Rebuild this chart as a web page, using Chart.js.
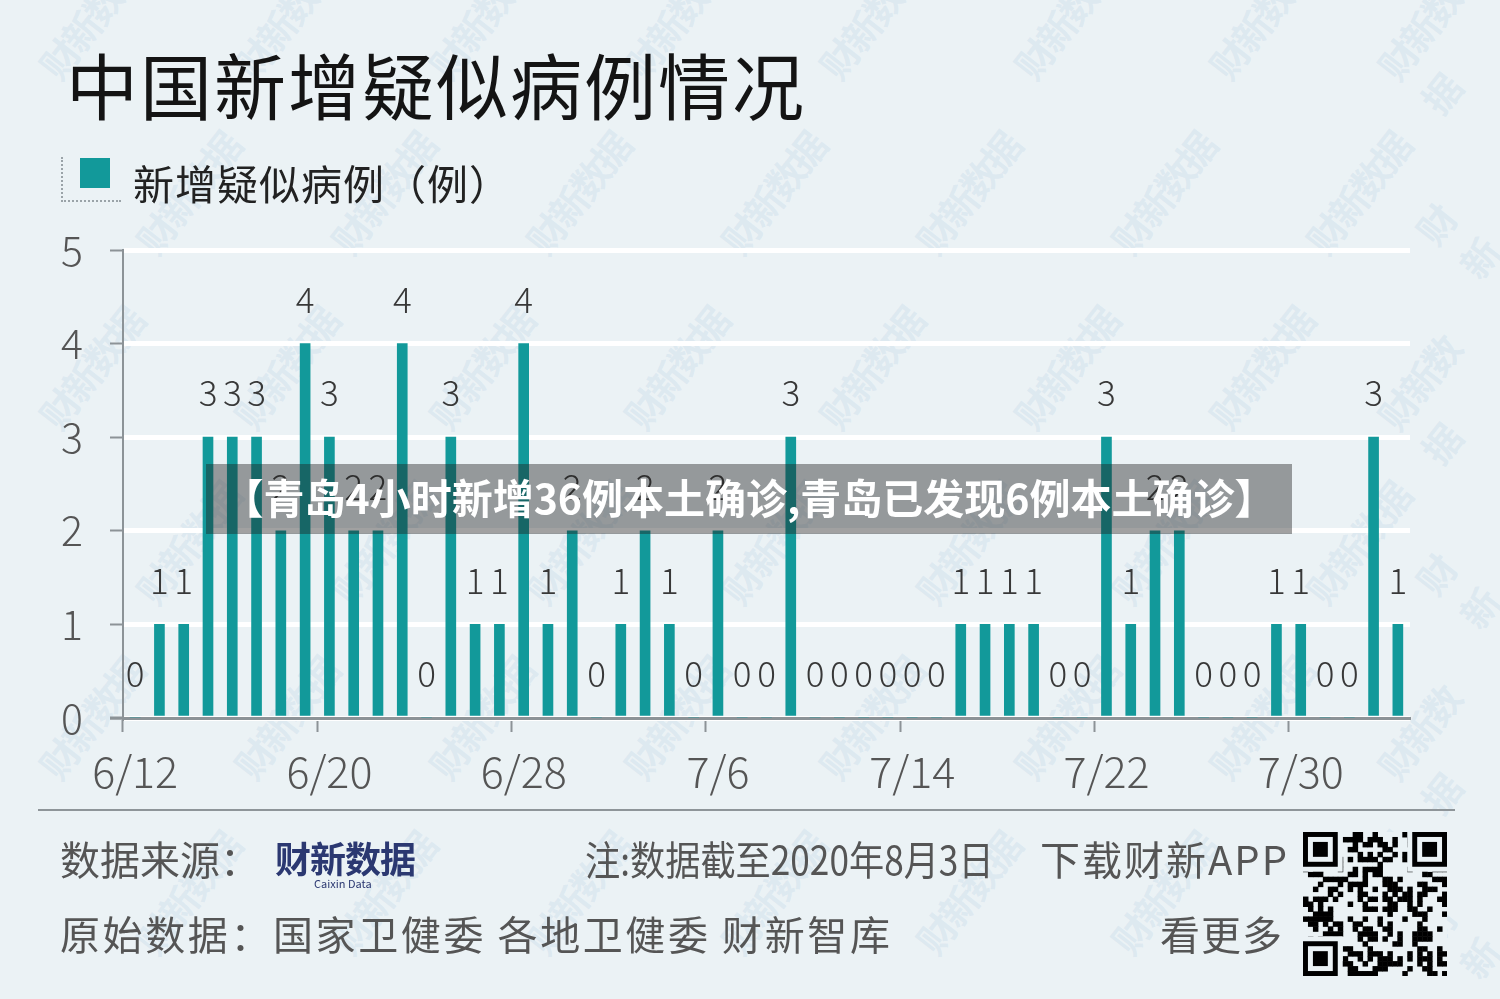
<!DOCTYPE html>
<html>
<head>
<meta charset="utf-8">
<script src="https://cdn.jsdelivr.net/npm/chart.js@4.4.0/dist/chart.umd.min.js"></script>
<style>
  html, body { margin: 0; padding: 0; }
  body { width: 1500px; height: 999px; background: #ebf2f5; position: relative; overflow: hidden;
         font-family: 'Noto Sans CJK SC', 'Noto Sans', sans-serif; }
  .abs { position: absolute; white-space: nowrap; }
  #wm { position: absolute; left: 0; top: 0; width: 1500px; height: 999px; pointer-events: none; }
  #wm span { position: absolute; font-weight: bold; font-size: 38px; color: rgba(150,185,215,0.16);
             transform: rotate(-52deg); letter-spacing: -3px; }
  #chartBox { position: absolute; left: 0; top: 0; width: 1500px; height: 999px; }
  #title { left: 66px; top: 30px; font-size: 72px; color: #141414; letter-spacing: 2px; }
  #legSwatch { left: 80px; top: 158px; width: 30px; height: 30px; background: #12999a; }
  #legDots { left: 61px; top: 157px; width: 58px; height: 43px; border-left: 2px dotted #9aa3a8; border-bottom: 2px dotted #9aa3a8; }
  #legText { left: 133px; top: 156px; font-size: 41px; color: #222; line-height: 52px; letter-spacing: 1px; }
  #banner { left: 206px; top: 464px; width: 1086px; height: 70px; background: rgba(30,30,30,0.42);
            color: #fff; font-weight: bold; font-size: 41px; line-height: 64px; text-align: center; }
  #rule { left: 38px; top: 809px; width: 1417px; height: 2px; background: #8e9599; }
  .foot { font-size: 40px; color: #555; line-height: 46px; transform-origin: 0 50%; }
  #logo { left: 275px; top: 836px; font-size: 36px; font-weight: bold; color: #2b3871; line-height: 42px; letter-spacing: -1px; }
  #logoSub { left: 314px; top: 875px; font-size: 11px; color: #2b3871; }
  #qr { position: absolute; left: 1303px; top: 832px; }
</style>
</head>
<body>
<div id="wm"></div>
<div id="chartBox"><canvas id="chart"></canvas></div>

<div class="abs" id="title">中国新增疑似病例情况</div>
<div class="abs" id="legDots"></div>
<div class="abs" id="legSwatch"></div>
<div class="abs" id="legText">新增疑似病例（例）</div>

<div class="abs" id="banner">【青岛4小时新增36例本土确诊,青岛已发现6例本土确诊】</div>

<div class="abs" id="rule"></div>
<div class="abs foot" style="left:60px; top:835px;">数据来源：</div>
<div class="abs" id="logo">财新数据</div>
<div class="abs" id="logoSub">Caixin Data</div>
<div class="abs foot" style="left:585px; top:835px; transform: scaleX(0.88);">注:数据截至2020年8月3日</div>
<div class="abs foot" style="left:1040px; top:835px; letter-spacing: 2px;">下载财新APP</div>
<div class="abs foot" style="left:60px; top:910px; letter-spacing: 2.6px;">原始数据：国家卫健委&nbsp;各地卫健委&nbsp;财新智库</div>
<div class="abs foot" style="left:1160px; top:910px; letter-spacing: 1px;">看更多</div>
<canvas id="qr" width="144" height="144"></canvas>

<script>
// Daily data, 6/12 .. 8/3
const dates = [
  '6/12','6/13','6/14','6/15','6/16','6/17','6/18','6/19','6/20','6/21','6/22','6/23','6/24','6/25','6/26','6/27','6/28','6/29','6/30',
  '7/1','7/2','7/3','7/4','7/5','7/6','7/7','7/8','7/9','7/10','7/11','7/12','7/13','7/14','7/15','7/16','7/17','7/18','7/19','7/20',
  '7/21','7/22','7/23','7/24','7/25','7/26','7/27','7/28','7/29','7/30','7/31','8/1','8/2','8/3'
];
const suspected = [
  0,1,1,3,3,3,2,4,3,2,2,4,0,3,1,1,4,1,2,
  0,1,2,1,0,2,0,0,3,0,0,0,0,0,0,1,1,1,1,0,
  0,3,1,2,2,0,0,0,1,1,0,0,3,1
];
const tickEvery = 8;   // 6/12, 6/20, 6/28, 7/6, 7/14, 7/22, 7/30
const yTicks = [0, 1, 2, 3, 4, 5];

const barColor = '#12999a';
const axisGray = '#8c9397';
const numFont = "'Noto Sans CJK SC', 'Liberation Sans', sans-serif";

// watermark
const wm = document.getElementById('wm');
for (let r = 0; r < 6; r++) {
  for (let c = 0; c < 8; c++) {
    const s = document.createElement('span');
    s.textContent = '财新数据';
    s.style.left = (c * 195 + (r % 2) * 97 + 20) + 'px';
    s.style.top = (r * 175 - 10) + 'px';
    wm.appendChild(s);
  }
}

// value labels above bars
const valueLabels = {
  id: 'valueLabels',
  afterDatasetsDraw(chart) {
    const ctx = chart.ctx;
    const meta = chart.getDatasetMeta(0);
    ctx.save();
    ctx.font = '300 35px ' + numFont;
    ctx.fillStyle = '#383838';
    ctx.textAlign = 'center';
    ctx.textBaseline = 'middle';
    meta.data.forEach((bar, i) => {
      ctx.fillText(String(suspected[i]), bar.x, bar.y - 44);
    });
    ctx.restore();
  }
};

// short left stub of the x axis past the y axis
const axisStub = {
  id: 'axisStub',
  afterDraw(chart) {
    const ctx = chart.ctx, a = chart.chartArea;
    ctx.save();
    ctx.strokeStyle = axisGray;
    ctx.lineWidth = 3;
    ctx.beginPath();
    ctx.moveTo(a.left - 13, a.bottom);
    ctx.lineTo(a.left, a.bottom);
    ctx.stroke();
    ctx.restore();
  }
};

new Chart(document.getElementById('chart'), {
  type: 'bar',
  data: {
    labels: dates,
    datasets: [{
      label: '新增疑似病例（例）',
      data: suspected,
      backgroundColor: barColor,
      barThickness: 10,
      borderWidth: 0
    }]
  },
  options: {
    responsive: true,
    maintainAspectRatio: false,
    animation: false,
    layout: { padding: { left: 0, top: 250, right: 90, bottom: 191 } },
    plugins: { legend: { display: false }, tooltip: { enabled: false } },
    scales: {
      x: {
        offset: true,
        afterFit: s => { s.height = 90; },
        grid: {
          offset: true,
          drawOnChartArea: false,
          drawTicks: true,
          tickLength: 14,
          tickWidth: 2,
          tickColor: c => (c.index % tickEvery === 0 && c.index < dates.length) ? axisGray : 'rgba(0,0,0,0)'
        },
        border: { color: axisGray, width: 3 },
        ticks: {
          autoSkip: false,
          maxRotation: 0,
          padding: 14,
          color: '#555',
          font: { family: numFont, size: 43, weight: '300' },
          callback: (v, i) => (i % tickEvery === 0 ? dates[i] : '')
        }
      },
      y: {
        min: 0,
        max: 5,
        afterBuildTicks: s => { s.ticks = yTicks.map(v => ({ value: v })); },
        afterFit: s => { s.width = 123; },
        grid: { color: '#ffffff', lineWidth: 5, tickLength: 13, tickColor: axisGray, tickWidth: 2 },
        border: { color: axisGray, width: 2 },
        ticks: {
          padding: 27,
          color: '#555',
          font: { family: numFont, size: 41, weight: '300' }
        }
      }
    }
  },
  plugins: [valueLabels, axisStub]
});

// QR-like decoration
(function () {
  const q = document.getElementById('qr').getContext('2d');
  const n = 29, m = 144 / n;
  q.fillStyle = '#ebf2f5';
  q.fillRect(0, 0, 144, 144);
  q.fillStyle = '#000';
  for (let i = 0; i < n; i++) {
    for (let j = 0; j < n; j++) {
      const h = ((i * 73 + j * 151 + i * j * 37) ^ (i * 11 + j * 5)) % 7;
      if (h < 3) q.fillRect(j * m, i * m, m + 0.5, m + 0.5);
    }
  }
  const finder = (x, y) => {
    q.fillStyle = '#000'; q.fillRect(x * m, y * m, 7 * m, 7 * m);
    q.fillStyle = '#ebf2f5'; q.fillRect((x + 1) * m, (y + 1) * m, 5 * m, 5 * m);
    q.fillStyle = '#000'; q.fillRect((x + 2) * m, (y + 2) * m, 3 * m, 3 * m);
  };
  q.fillStyle = '#ebf2f5';
  q.fillRect(0, 0, 8 * m, 8 * m); q.fillRect((n - 8) * m, 0, 8 * m, 8 * m); q.fillRect(0, (n - 8) * m, 8 * m, 8 * m);
  finder(0, 0); finder(n - 7, 0); finder(0, n - 7);
})();
</script>
</body>
</html>
